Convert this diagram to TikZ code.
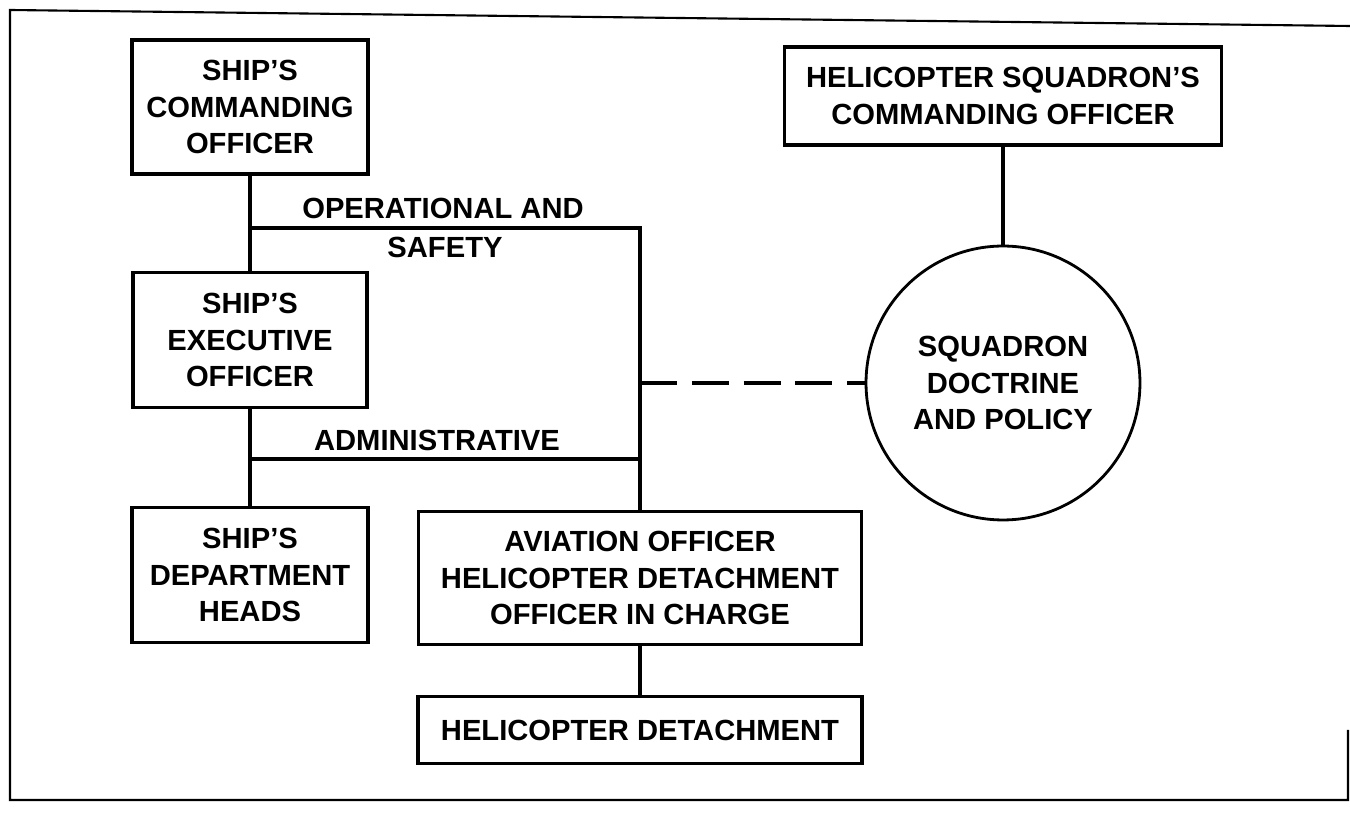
\documentclass[tikz,border=0pt]{standalone}
\usepackage{fontspec}
\setmainfont{Liberation Sans}
\usetikzlibrary{calc}

\begin{document}
\begin{tikzpicture}[
  x=0.02cm, y=-0.02cm, line cap=butt, line join=miter,
  orgbox/.style={draw=black, line width=1.8pt, inner sep=0pt, outer sep=0pt,
                 align=center, font=\fontsize{16.6}{21}\selectfont\bfseries},
  orgcirc/.style={orgbox, circle, line width=1.6pt, minimum size=5.48cm},
  link/.style={black, line width=2.2pt},
  dotted link/.style={link, dash pattern=on 21pt off 8.5pt},
  lbl/.style={font=\fontsize{16.6}{21}\selectfont\bfseries, inner sep=0pt},
]

\path[use as bounding box] (0,0) rectangle (1350,813);
\draw[line width=1.2pt] (1348,730) -- (1348,800) -- (10,800) -- (10,10) -- (1350,26);

% Ship side
\node[orgbox, minimum width=4.72cm, minimum height=2.68cm] (sco) at (250,107)
  {SHIP'S\\COMMANDING\\OFFICER};
\node[orgbox, minimum width=4.68cm, minimum height=2.7cm] (xo) at (250,340)
  {SHIP'S\\EXECUTIVE\\OFFICER};
\node[orgbox, minimum width=4.72cm, minimum height=2.7cm] (dh) at (250,575)
  {SHIP'S\\DEPARTMENT\\HEADS};

% Detachment
\node[orgbox, minimum width=8.86cm, minimum height=2.66cm] (avo) at (640,578)
  {AVIATION OFFICER\\HELICOPTER DETACHMENT\\OFFICER IN CHARGE};
\node[orgbox, minimum width=8.88cm, minimum height=1.34cm] (hd) at (640,730)
  {HELICOPTER DETACHMENT};

% Squadron
\node[orgbox, minimum width=8.74cm, minimum height=1.96cm] (hsco) at (1003,96)
  {HELICOPTER SQUADRON'S\\COMMANDING OFFICER};
\node[orgcirc] (sdp) at (1003,383) {SQUADRON\\DOCTRINE\\AND POLICY};

\coordinate (opsj) at (250,228);
\coordinate (opsk) at (640,228);
\coordinate (admj) at (250,459);
\coordinate (admk) at (640,459);
\coordinate (dsh)  at (640,383);

\draw[link] (sco) -- (xo);
\draw[link] (xo) -- (dh);
\draw[link] (opsj) -- (opsk) -- (avo);
\draw[link] (admj) -- (admk);
\draw[link] (avo) -- (hd);
\draw[link] (hsco) -- (sdp);
\draw[dotted link] (dsh) -- (sdp.west);

\node[lbl] (opslbl) at (443,208) {OPERATIONAL AND};
\node[lbl] (saflbl) at (445,247) {SAFETY};
\node[lbl] (admlbl) at (437,440) {ADMINISTRATIVE};

\end{tikzpicture}
\end{document}
